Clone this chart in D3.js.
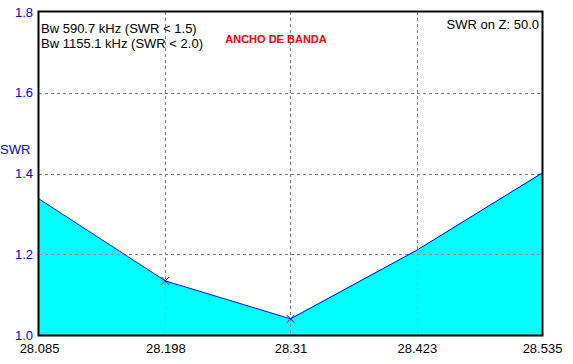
<!DOCTYPE html>
<html>
<head>
<meta charset="utf-8">
<script src="https://cdn.jsdelivr.net/npm/d3@7"></script>
<style>
  body { margin: 0; background: #fff; }
  text { font-family: "Liberation Sans", Arial, sans-serif; }
</style>
</head>
<body>
<svg></svg>
<script>
// frequency (MHz) and SWR
let freqs = [28.085, 28.198, 28.31, 28.423, 28.535]
let swr = [1.337, 1.134, 1.040, 1.210, 1.401]
let markedFreqs = [28.198, 28.31]
let xTickLabels = ["28.085", "28.198", "28.31", "28.423", "28.535"]
let yTicks = [1.0, 1.2, 1.4, 1.6, 1.8]
let infoLines = ["Bw 590.7 kHz (SWR < 1.5)", "Bw 1155.1 kHz (SWR < 2.0)"]

let width = 573
let height = 364
let plotLeft = 39, plotRight = 542, plotTop = 12, plotBottom = 335

let svg = d3.select('svg').attr('width', width).attr('height', height)

let xScale = d3.scaleLinear().domain([28.085, 28.535]).range([plotLeft, plotRight])
let yScale = d3.scaleLinear().domain([1.0, 1.8]).range([plotBottom, plotTop])

let points = freqs.map((f, i) => [f, swr[i]])

// filled area under the curve
let area = d3.area()
    .x(d => xScale(d[0]))
    .y0(yScale(1.0))
    .y1(d => yScale(d[1]))

svg.append('clipPath').attr('id', 'under')
    .append('path').attr('d', area(points))

svg.append('path')
    .attr('d', area(points))
    .attr('fill', '#00ffff')

// dashed grid, grey on white and reddish inside the fill
let drawGrid = (g, color) => {
    g.selectAll('.vg').data(freqs.slice(1, -1)).join('line').attr('class', 'vg')
        .attr('x1', d => Math.round(xScale(d)) + 0.5).attr('x2', d => Math.round(xScale(d)) + 0.5)
        .attr('y1', plotTop).attr('y2', plotBottom)
        .attr('stroke', color).attr('stroke-dasharray', '3,3')
    g.selectAll('.hg').data(yTicks.slice(1, -1)).join('line').attr('class', 'hg')
        .attr('y1', d => Math.round(yScale(d)) + 0.5).attr('y2', d => Math.round(yScale(d)) + 0.5)
        .attr('x1', plotLeft).attr('x2', plotRight)
        .attr('stroke', color).attr('stroke-dasharray', '3,3')
}
drawGrid(svg.append('g'), '#808080')
drawGrid(svg.append('g').attr('clip-path', 'url(#under)'), '#e07070')

// the SWR line
svg.append('path')
    .datum(points)
    .attr('d', d3.line().x(d => xScale(d[0])).y(d => yScale(d[1])))
    .attr('fill', 'none')
    .attr('stroke', '#0000ff')
    .attr('stroke-width', 1)

// x markers
let marks = points.filter(p => markedFreqs.includes(p[0]))
svg.selectAll('.mk').data(marks).join('path')
    .attr('d', d => {
        let x = xScale(d[0]), y = yScale(d[1])
        return `M${x - 4},${y - 4}L${x + 4},${y + 4}M${x - 4},${y + 4}L${x + 4},${y - 4}`
    })
    .attr('stroke', '#0000ff').attr('stroke-width', 1)

// frame
svg.append('rect')
    .attr('x', plotLeft - 0.5).attr('y', plotTop - 0.5)
    .attr('width', plotRight - plotLeft + 1).attr('height', plotBottom - plotTop + 1)
    .attr('fill', 'none').attr('stroke', '#000').attr('stroke-width', 2)

// axes
let xAxis = d3.axisBottom(xScale).tickValues(freqs).tickFormat((d, i) => xTickLabels[i]).tickSize(0).tickPadding(9)
let xg = svg.append('g').attr('transform', 'translate(0,' + plotBottom + ')').call(xAxis)
xg.select('.domain').remove()
xg.selectAll('text').attr('font-size', 13).attr('fill', '#000').attr('font-family', '"Liberation Sans", Arial, sans-serif')

let yAxis = d3.axisLeft(yScale).tickValues(yTicks).tickFormat(d3.format('.1f')).tickSize(0).tickPadding(6)
let yg = svg.append('g').attr('transform', 'translate(' + plotLeft + ',0)').call(yAxis)
yg.select('.domain').remove()
yg.selectAll('text').attr('font-size', 13).attr('fill', '#0000ff').attr('font-family', '"Liberation Sans", Arial, sans-serif')

svg.append('text').attr('x', 0).attr('y', 154)
    .attr('font-size', 13).attr('fill', '#0000ff').text('SWR')

// info texts
svg.selectAll('.info').data(infoLines).join('text')
    .attr('x', 41).attr('y', (d, i) => 33 + i * 15)
    .attr('font-size', 13).attr('fill', '#000').text(d => d)

svg.append('text').attr('x', 539).attr('y', 29).attr('text-anchor', 'end')
    .attr('font-size', 13).attr('fill', '#000').text('SWR on Z: 50.0')

svg.append('text').attr('x', 276).attr('y', 43).attr('text-anchor', 'middle')
    .attr('font-size', 11).attr('font-weight', 'bold').attr('fill', '#ff0000').text('ANCHO DE BANDA')
</script>
</body>
</html>
